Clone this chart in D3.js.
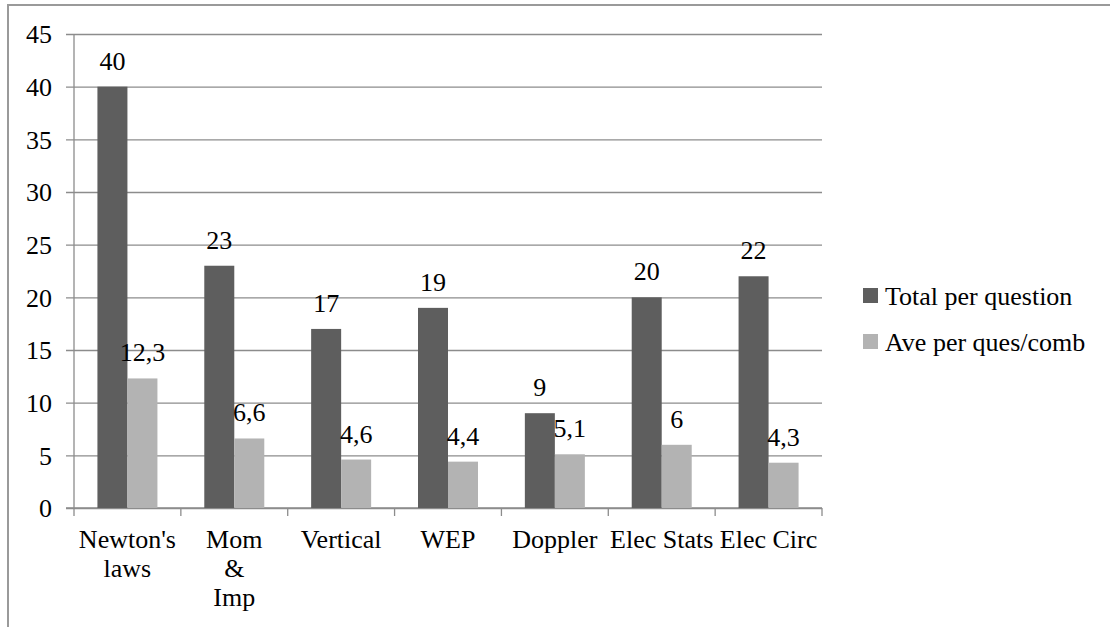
<!DOCTYPE html>
<html>
<head>
<meta charset="utf-8">
<script src="https://cdn.jsdelivr.net/npm/d3@7"></script>
<style>
  html, body { margin: 0; padding: 0; background: #fff; }
  svg { display: block; }
</style>
</head>
<body>
<svg id="chart" width="1110" height="627"></svg>
<script>
// Topic categories and the two measured series
const categories = ["Newton's laws", "Mom & Imp", "Vertical", "WEP", "Doppler", "Elec Stats", "Elec Circ"];
const categoryLines = [["Newton's", "laws"], ["Mom", "&", "Imp"], ["Vertical"], ["WEP"], ["Doppler"], ["Elec Stats"], ["Elec Circ"]];
const seriesNames = ["Total per question", "Ave per ques/comb"];
const totalPerQuestion = [40, 23, 17, 19, 9, 20, 22];
const avePerQuesComb = [12.3, 6.6, 4.6, 4.4, 5.1, 6, 4.3];
const yTicks = [0, 5, 10, 15, 20, 25, 30, 35, 40, 45];

const colors = ["#5e5e5e", "#b3b3b3"];
const seriesValues = [totalPerQuestion, avePerQuesComb];
const FONT = "Liberation Serif";
const FS = 26;

const svg = d3.select("#chart");
const plot = { left: 74, right: 822, top: 34, bottom: 508 };

function styleText(sel) {
  return sel.attr("font-family", FONT).style("font-family", FONT)
    .attr("font-size", FS).style("font-size", FS + "px")
    .attr("fill", "#000");
}

// Outer frame (extends past the visible area on the right and bottom)
svg.append("rect")
  .attr("x", 8).attr("y", 5)
  .attr("width", 1200).attr("height", 700)
  .attr("fill", "none")
  .attr("stroke", "#9a9a9a")
  .attr("stroke-width", 2);

const x0 = d3.scaleBand().domain(categories).range([plot.left, plot.right]).padding(0);
const groupW = 60;
const x1 = d3.scaleBand().domain(seriesNames)
  .range([(x0.bandwidth() - groupW) / 2, (x0.bandwidth() + groupW) / 2]).padding(0);
const y = d3.scaleLinear().domain([0, 45]).range([plot.bottom, plot.top]);

const gridColor = "#8c8c8c";

// Horizontal gridlines with short outward tick marks
const yAxis = d3.axisLeft(y).tickValues(yTicks).tickSize(-(plot.right - plot.left));
const gy = svg.append("g").attr("transform", `translate(${plot.left},0)`).call(yAxis)
  .attr("font-family", FONT).attr("font-size", FS);
gy.select(".domain").remove();
gy.selectAll(".tick line").attr("stroke", gridColor).attr("stroke-width", 1.3)
  .attr("x1", -8);
styleText(gy.selectAll(".tick text"))
  .attr("x", -22)
  .attr("dy", "0.34em");

// Vertical axis line
svg.append("line")
  .attr("x1", plot.left).attr("x2", plot.left)
  .attr("y1", plot.top).attr("y2", plot.bottom)
  .attr("stroke", gridColor).attr("stroke-width", 1.3);

// Category axis line and boundary ticks
svg.append("line")
  .attr("x1", plot.left - 8).attr("x2", plot.right)
  .attr("y1", plot.bottom).attr("y2", plot.bottom)
  .attr("stroke", gridColor).attr("stroke-width", 1.3);
const boundaries = categories.map(c => x0(c)).concat([plot.right]);
svg.append("g").selectAll("line").data(boundaries).join("line")
  .attr("x1", d => d).attr("x2", d => d)
  .attr("y1", plot.bottom).attr("y2", plot.bottom + 8)
  .attr("stroke", gridColor).attr("stroke-width", 1.3);

// Bars with value labels
const groups = svg.append("g").selectAll("g").data(categories).join("g")
  .attr("transform", c => `translate(${x0(c)},0)`);

seriesNames.forEach((s, si) => {
  groups.append("rect")
    .attr("x", x1(s))
    .attr("width", x1.bandwidth())
    .attr("y", (c, i) => y(seriesValues[si][i]))
    .attr("height", (c, i) => y(0) - y(seriesValues[si][i]))
    .attr("fill", colors[si]);

  styleText(groups.append("text"))
    .attr("x", x1(s) + x1.bandwidth() / 2)
    .attr("y", (c, i) => y(seriesValues[si][i]) - 17)
    .attr("text-anchor", "middle")
    .text((c, i) => String(seriesValues[si][i]).replace(".", ","));
});

// Category labels
const catLabels = styleText(svg.append("g").selectAll("text").data(categories).join("text"))
  .attr("x", c => x0(c) + x0.bandwidth() / 2)
  .attr("y", 548)
  .attr("text-anchor", "middle");
catLabels.each(function(c, i) {
  const t = d3.select(this);
  categoryLines[i].forEach((line, li) => {
    t.append("tspan")
      .attr("x", x0(c) + x0.bandwidth() / 2)
      .attr("dy", li === 0 ? 0 : 29)
      .text(line);
  });
});

// Legend
const legend = svg.append("g").attr("transform", "translate(863,288)");
seriesNames.forEach((s, i) => {
  const g = legend.append("g").attr("transform", `translate(0,${i * 46})`);
  g.append("rect").attr("width", 15).attr("height", 15).attr("fill", colors[i]);
  styleText(g.append("text")).attr("x", 22).attr("y", 17).text(s);
});
</script>
</body>
</html>
